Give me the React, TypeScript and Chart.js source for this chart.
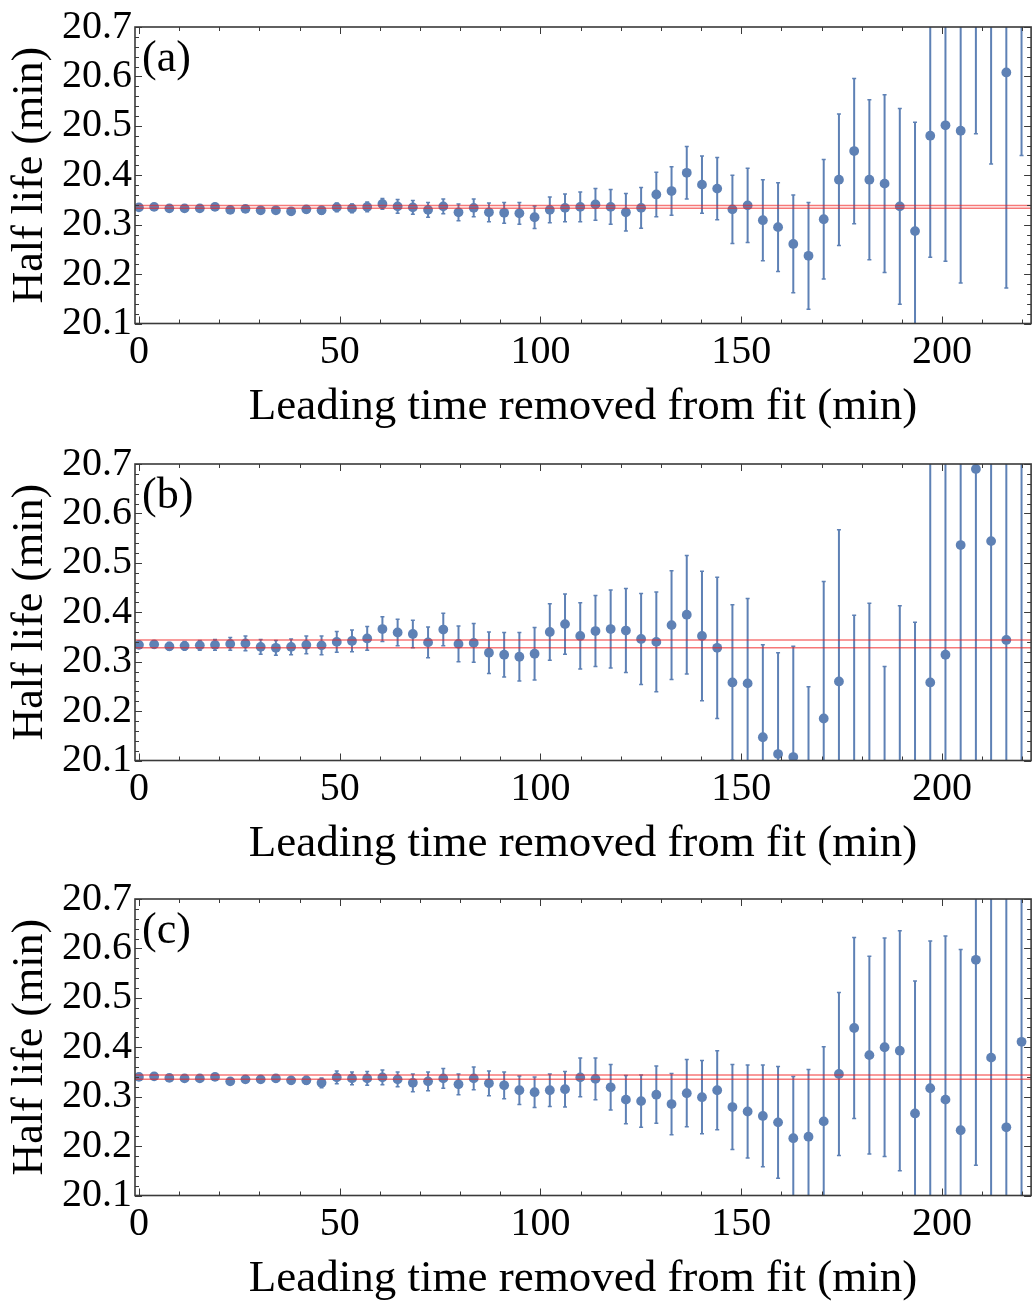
import React, { useEffect, useRef } from 'react';
import { Chart, registerables } from 'chart.js';

Chart.register(...registerables);

// ---- data ----
const xValues = [
  0, 3.79, 7.58, 11.37, 15.16, 18.95, 22.74, 26.53, 30.32, 34.11, 37.9, 41.69, 45.48, 49.27, 53.06,
  56.85, 60.64, 64.43, 68.22, 72.01, 75.8, 79.59, 83.38, 87.17, 90.96, 94.75, 98.54, 102.33, 106.12,
  109.91, 113.7, 117.49, 121.28, 125.07, 128.86, 132.65, 136.44, 140.23, 144.02, 147.81, 151.6, 155.39,
  159.18, 162.97, 166.76, 170.55, 174.34, 178.13, 181.92, 185.71, 189.5, 193.29, 197.08, 200.87, 204.66,
  208.45, 212.24, 216.03, 219.82,
];

const valuesA = [
  20.335, 20.336, 20.333, 20.333, 20.333, 20.336, 20.33, 20.332, 20.329, 20.329, 20.327, 20.331, 20.329,
  20.335, 20.333, 20.336, 20.342, 20.337, 20.335, 20.33, 20.337, 20.325, 20.334, 20.325, 20.324, 20.323,
  20.315, 20.33, 20.334, 20.336, 20.341, 20.336, 20.325, 20.334, 20.361, 20.368, 20.405, 20.381, 20.373,
  20.331, 20.339, 20.309, 20.295, 20.261, 20.237, 20.311, 20.391, 20.449, 20.391, 20.383, 20.337, 20.287,
  20.48, 20.501, 20.49, 20.829, 20.813, 20.608, 20.93,
];
const errorsA = [
  0.003, 0.003, 0.003, 0.004, 0.004, 0.004, 0.005, 0.005, 0.006, 0.006, 0.007, 0.007, 0.008, 0.009, 0.009,
  0.01, 0.011, 0.014, 0.014, 0.015, 0.015, 0.017, 0.018, 0.019, 0.021, 0.022, 0.023, 0.026, 0.028, 0.03,
  0.032, 0.035, 0.038, 0.041, 0.045, 0.049, 0.053, 0.058, 0.063, 0.069, 0.075, 0.082, 0.09, 0.099, 0.108,
  0.121, 0.133, 0.147, 0.162, 0.18, 0.198, 0.22, 0.246, 0.275, 0.308, 0.345, 0.39, 0.436, 0.49,
];
const refLinesA = [20.333, 20.339];

const valuesB = [
  20.334, 20.335, 20.331, 20.332, 20.333, 20.334, 20.336, 20.337, 20.33, 20.328, 20.33, 20.334, 20.333,
  20.34, 20.342, 20.347, 20.366, 20.359, 20.356, 20.339, 20.365, 20.336, 20.338, 20.318, 20.314, 20.31,
  20.316, 20.36, 20.376, 20.352, 20.362, 20.366, 20.363, 20.346, 20.34, 20.374, 20.395, 20.352, 20.328,
  20.258, 20.256, 20.147, 20.113, 20.107, 20.004, 20.185, 20.26, 20.064, 20.058, 19.9, 19.983, 19.91,
  20.258, 20.314, 20.536, 20.69, 20.544, 20.344, 19.95,
];
const errorsB = [
  0.006, 0.007, 0.008, 0.009, 0.01, 0.011, 0.013, 0.015, 0.015, 0.015, 0.016, 0.018, 0.019, 0.021, 0.022,
  0.024, 0.025, 0.027, 0.028, 0.031, 0.033, 0.036, 0.039, 0.042, 0.045, 0.049, 0.053, 0.057, 0.061, 0.067,
  0.072, 0.079, 0.085, 0.092, 0.101, 0.11, 0.12, 0.131, 0.143, 0.157, 0.172, 0.187, 0.205, 0.224, 0.245,
  0.277, 0.307, 0.33, 0.36, 0.39, 0.43, 0.47, 0.52, 0.57, 0.62, 0.68, 0.74, 0.8, 0.88,
];
const refLinesB = [20.328, 20.344];

const valuesC = [
  20.34, 20.341, 20.338, 20.337, 20.337, 20.34, 20.331, 20.335, 20.335, 20.337, 20.333, 20.333, 20.328,
  20.339, 20.337, 20.337, 20.339, 20.335, 20.328, 20.331, 20.337, 20.325, 20.337, 20.327, 20.323, 20.313,
  20.309, 20.313, 20.315, 20.339, 20.336, 20.319, 20.294, 20.291, 20.304, 20.285, 20.307, 20.299, 20.313,
  20.279, 20.27, 20.261, 20.248, 20.216, 20.219, 20.25, 20.346, 20.439, 20.384, 20.4, 20.393, 20.266,
  20.317, 20.294, 20.232, 20.577, 20.379, 20.238, 20.411,
];
const errorsC = [
  0.003, 0.003, 0.004, 0.004, 0.004, 0.005, 0.005, 0.006, 0.006, 0.007, 0.007, 0.008, 0.01, 0.013, 0.013,
  0.014, 0.015, 0.015, 0.018, 0.019, 0.02, 0.021, 0.023, 0.025, 0.027, 0.029, 0.031, 0.033, 0.036, 0.039,
  0.042, 0.046, 0.049, 0.053, 0.058, 0.062, 0.068, 0.074, 0.08, 0.086, 0.094, 0.103, 0.113, 0.125, 0.136,
  0.151, 0.165, 0.183, 0.2, 0.221, 0.243, 0.268, 0.298, 0.331, 0.366, 0.416, 0.46, 0.51, 0.56,
];
const refLinesC = [20.335, 20.344];

const panelLabels = ['(a)', '(b)', '(c)'];
const xTicks = [0, 50, 100, 150, 200];
const yTicks = [20.1, 20.2, 20.3, 20.4, 20.5, 20.6, 20.7];
const xMinorStep = 10;
const yMinorStep = 0.02;
const X_MIN = -0.98;
const X_MAX = 222.2;
const Y_MIN = 20.1;
const Y_MAX = 20.7;

const xTitle = 'Leading time removed from fit (min)';
const yTitle = 'Half life (min)';

const BLUE = '#5E81B5';
const RED = 'rgba(240, 30, 30, 0.6)';
const FRAME = '#3a3a3a';
const FONT = "'Liberation Serif', 'Times New Roman', serif";

type PanelProps = {
  values: number[];
  errors: number[];
  refLines: number[];
  label: string;
  top: number;
};

function Panel({ values, errors, refLines, label, top }: PanelProps) {
  const ref = useRef<HTMLCanvasElement>(null);

  useEffect(() => {
    if (!ref.current) return;
    const points = xValues.map((x, i) => ({ x, y: values[i] }));

    const errorBars = {
      id: 'errorBars',
      beforeDatasetsDraw(chart: any) {
        const { ctx, chartArea, scales } = chart;
        const xs = scales.x;
        const ys = scales.y;
        ctx.save();
        ctx.beginPath();
        ctx.rect(chartArea.left, chartArea.top, chartArea.right - chartArea.left, chartArea.bottom - chartArea.top);
        ctx.clip();
        ctx.strokeStyle = BLUE;
        xValues.forEach((xv, i) => {
          const px = xs.getPixelForValue(xv);
          const y1 = ys.getPixelForValue(values[i] - errors[i]);
          const y2 = ys.getPixelForValue(values[i] + errors[i]);
          ctx.lineWidth = 2;
          ctx.beginPath();
          ctx.moveTo(px, y1);
          ctx.lineTo(px, y2);
          ctx.stroke();
          ctx.lineWidth = 1.5;
          ctx.beginPath();
          ctx.moveTo(px - 2, y1);
          ctx.lineTo(px + 2, y1);
          ctx.moveTo(px - 2, y2);
          ctx.lineTo(px + 2, y2);
          ctx.stroke();
        });
        ctx.restore();
      },
    };

    const frame = {
      id: 'frame',
      afterDraw(chart: any) {
        const { ctx, chartArea, scales } = chart;
        const xs = scales.x;
        const ys = scales.y;
        const { left, right, top: t, bottom } = chartArea;
        ctx.save();
        ctx.strokeStyle = FRAME;
        ctx.lineWidth = 1;
        for (let v = 0; v <= X_MAX; v += xMinorStep) {
          const px = Math.round(xs.getPixelForValue(v)) + 0.5;
          const major = xTicks.includes(v);
          const len = major ? 7 : 4;
          ctx.beginPath();
          ctx.moveTo(px, bottom);
          ctx.lineTo(px, bottom - len);
          ctx.moveTo(px, t);
          ctx.lineTo(px, t + len);
          ctx.stroke();
        }
        for (let k = 0; k <= Math.round((Y_MAX - Y_MIN) / yMinorStep); k++) {
          const v = Y_MIN + k * yMinorStep;
          const py = Math.round(ys.getPixelForValue(v)) + 0.5;
          const major = k % 5 === 0;
          const len = major ? 7 : 4;
          ctx.beginPath();
          ctx.moveTo(left, py);
          ctx.lineTo(left + len, py);
          ctx.moveTo(right, py);
          ctx.lineTo(right - len, py);
          ctx.stroke();
        }
        ctx.lineWidth = 1.6;
        ctx.strokeStyle = FRAME;
        ctx.strokeRect(left, t, right - left, bottom - t);
        ctx.fillStyle = '#000';
        ctx.font = `44px ${FONT}`;
        ctx.textBaseline = 'top';
        ctx.textAlign = 'left';
        ctx.fillText(label, left + 7, t + 10);
        ctx.restore();
      },
    };

    const chart = new Chart(ref.current, {
      type: 'scatter',
      data: {
        datasets: [
          {
            type: 'line',
            data: [
              { x: X_MIN, y: refLines[0] },
              { x: X_MAX, y: refLines[0] },
            ],
            borderColor: RED,
            borderWidth: 1.5,
            pointRadius: 0,
            order: 0,
          } as any,
          {
            type: 'line',
            data: [
              { x: X_MIN, y: refLines[1] },
              { x: X_MAX, y: refLines[1] },
            ],
            borderColor: RED,
            borderWidth: 1.5,
            pointRadius: 0,
            order: 0,
          } as any,
          {
            data: points,
            backgroundColor: BLUE,
            borderColor: BLUE,
            borderWidth: 0,
            pointRadius: 4.9,
            clip: 0,
            order: 1,
          } as any,
        ],
      },
      options: {
        animation: false,
        responsive: false,
        devicePixelRatio: 1,
        events: [],
        layout: { padding: { top: 24, right: 1, bottom: 0, left: 0 } },
        plugins: { legend: { display: false }, tooltip: { enabled: false } },
        scales: {
          x: {
            type: 'linear',
            min: X_MIN,
            max: X_MAX,
            afterBuildTicks: (s: any) => {
              s.ticks = xTicks.map((v) => ({ value: v }));
            },
            afterFit: (s: any) => {
              s.height = 112.5;
            },
            grid: { display: false, drawTicks: false },
            border: { display: false },
            ticks: {
              color: '#000',
              font: { family: FONT, size: 40 },
              padding: 5,
              maxRotation: 0,
              autoSkip: false,
              callback: (v: any) => String(v),
            },
            title: {
              display: true,
              text: xTitle,
              color: '#000',
              font: { family: FONT, size: 45 },
              padding: { top: 0, bottom: 2 },
            },
          },
          y: {
            type: 'linear',
            min: Y_MIN,
            max: Y_MAX,
            afterBuildTicks: (s: any) => {
              s.ticks = yTicks.map((v) => ({ value: v }));
            },
            afterFit: (s: any) => {
              s.width = 135;
            },
            grid: { display: false, drawTicks: false },
            border: { display: false },
            ticks: {
              color: '#000',
              font: { family: FONT, size: 40 },
              padding: 3,
              autoSkip: false,
              callback: (v: any) => Number(v).toFixed(1),
            },
            title: {
              display: true,
              text: yTitle,
              color: '#000',
              font: { family: FONT, size: 44 },
              padding: { top: 4, bottom: 0 },
            },
          },
        },
      },
      plugins: [errorBars, frame],
    } as any);

    return () => chart.destroy();
  }, [values, errors, refLines, label]);

  return (
    <canvas
      ref={ref}
      width={1036}
      height={436}
      style={{ position: 'absolute', left: 0, top, width: 1036, height: 436 }}
    />
  );
}

export default function App() {
  return (
    <div
      style={{
        position: 'absolute',
        left: 0,
        top: 0,
        width: 1034,
        height: 1302,
        overflow: 'hidden',
        background: '#fff',
      }}
    >
      <Panel values={valuesA} errors={errorsA} refLines={refLinesA} label={panelLabels[0]} top={0} />
      <Panel values={valuesB} errors={errorsB} refLines={refLinesB} label={panelLabels[1]} top={437} />
      <Panel values={valuesC} errors={errorsC} refLines={refLinesC} label={panelLabels[2]} top={872} />
    </div>
  );
}
